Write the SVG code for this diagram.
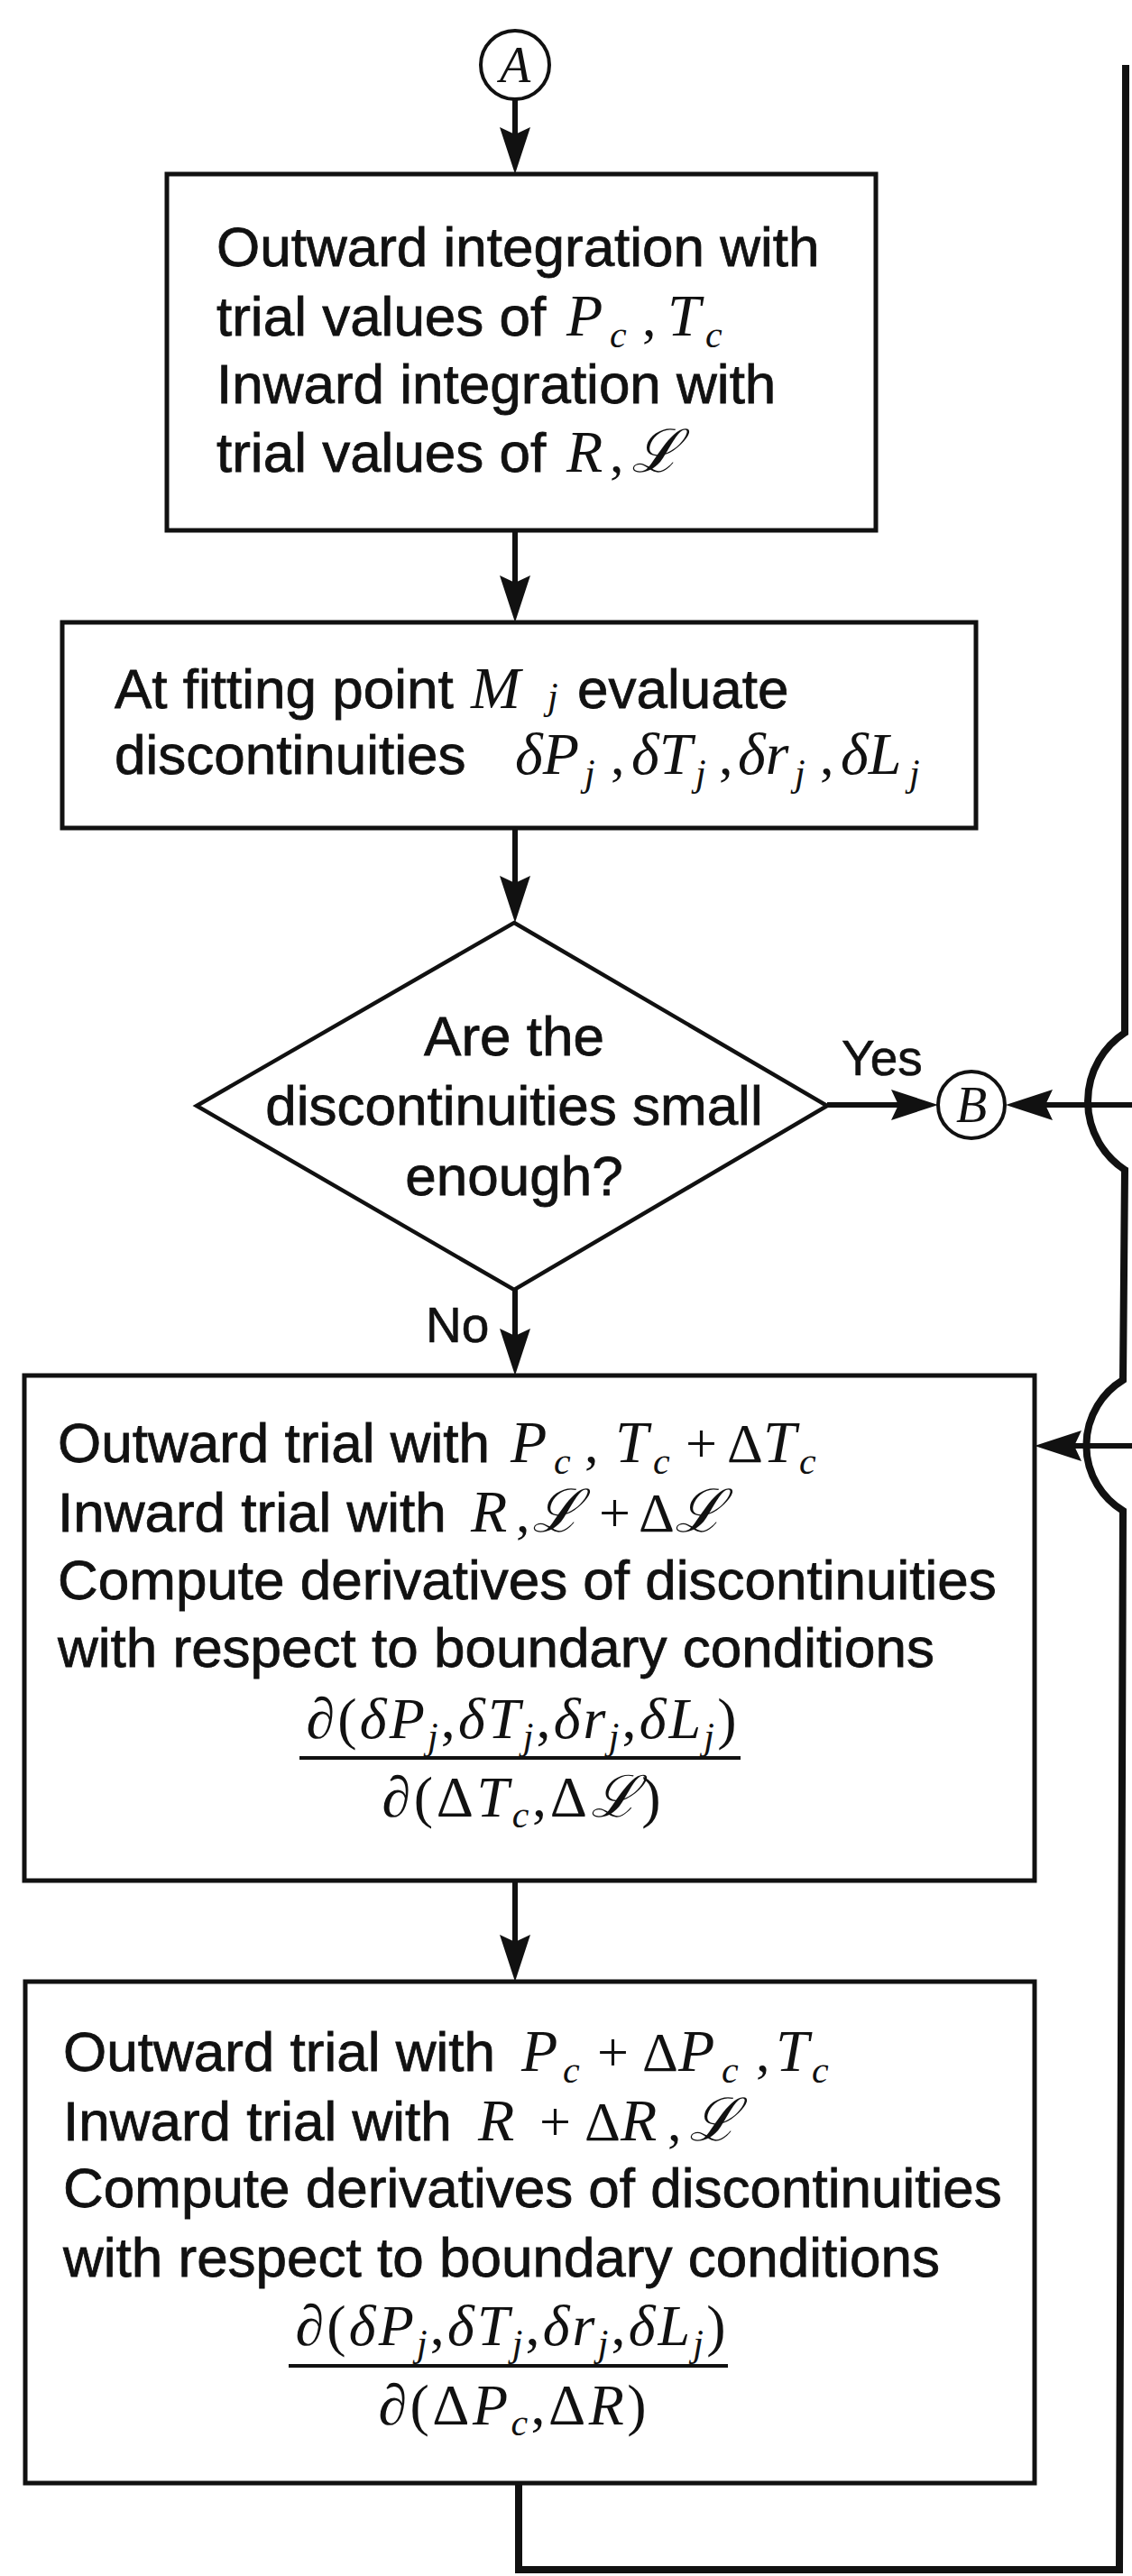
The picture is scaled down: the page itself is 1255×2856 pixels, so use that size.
<svg xmlns="http://www.w3.org/2000/svg" width="1255" height="2856" viewBox="0 0 1255 2856">
<style>
.bg{fill:#fff}
.box{fill:#fff;stroke:#111;stroke-width:5}
.dia{fill:#fff;stroke:#111;stroke-width:4.5}
.con{fill:#fff;stroke:#111;stroke-width:4}
.arr{fill:none;stroke:#111;stroke-width:6}
.loop{fill:none;stroke:#111;stroke-width:8;stroke-linejoin:miter}
.t{font-family:"Liberation Sans",Arial,sans-serif;font-size:62px;fill:#111;stroke:#111;stroke-width:0.8}
.lbl{font-family:"Liberation Sans",Arial,sans-serif;font-size:55px;fill:#111;stroke:#111;stroke-width:0.6}
.m{font-family:"Liberation Serif","Times New Roman",serif;font-style:italic;font-size:66px;fill:#111}
.u{font-family:"Liberation Serif","Times New Roman",serif;font-size:62px;fill:#111}
.s{font-family:"Liberation Serif","Times New Roman",serif;font-style:italic;font-size:42px;fill:#111}
.f{font-family:"Liberation Serif","Times New Roman",serif;font-style:italic;font-size:64px;fill:#111}
.fs{font-size:42px}
.cl{font-family:"Liberation Serif","Times New Roman",serif;font-style:italic;font-size:56px;fill:#111}
</style>
<defs>
<marker id="ah" markerUnits="userSpaceOnUse" viewBox="0 0 52 36" markerWidth="52" markerHeight="36" refX="40" refY="18" orient="auto">
<path d="M52,18 L0,1 L8,18 L0,35 Z" fill="#111"/>
</marker>
</defs>
<rect class="bg" x="0" y="0" width="1255" height="2856"/>

<g id="connectors">
<line class="arr" x1="571" y1="110" x2="571" y2="181" marker-end="url(#ah)"/>
<line class="arr" x1="571" y1="588" x2="571" y2="678" marker-end="url(#ah)"/>
<line class="arr" x1="571" y1="918" x2="571" y2="1011" marker-end="url(#ah)"/>
<line class="arr" x1="571" y1="1430" x2="571" y2="1513" marker-end="url(#ah)"/>
<line class="arr" x1="571" y1="2085" x2="571" y2="2185" marker-end="url(#ah)"/>
<line class="arr" x1="917" y1="1225" x2="1028" y2="1225" marker-end="url(#ah)"/>
<line class="arr" x1="1255" y1="1225" x2="1127" y2="1225" marker-end="url(#ah)"/>
<line class="arr" x1="1255" y1="1603" x2="1159" y2="1603" marker-end="url(#ah)"/>
<path class="loop" d="M575 2753 L575 2849 L1241 2849 L1245 1675 A85 85 0 0 1 1245 1530 L1247 1297 A91 91 0 0 1 1247 1145 L1248 72"/>
<text class="lbl" x="933" y="1192">Yes</text>
<text class="lbl" x="472" y="1488">No</text>
</g>

<g id="connectorA">
<circle class="con" cx="571" cy="72" r="38"/>
<text class="cl" x="571" y="91" text-anchor="middle">A</text>
</g>

<g id="connectorB">
<circle class="con" cx="1077" cy="1225" r="37"/>
<text class="cl" x="1077" y="1244" text-anchor="middle">B</text>
</g>

<g id="box1">
<rect class="box" x="185" y="193" width="786" height="395"/>
<text class="t" x="240" y="295">Outward integration with</text>
<text class="t" x="240" y="372">trial values of</text>
<text class="m" x="628" y="372">P</text>
<text class="s" x="676" y="385">c</text>
<text class="u" x="712" y="372">,</text>
<text class="m" x="740" y="372">T</text>
<text class="s" x="782" y="385">c</text>
<text class="t" x="240" y="447">Inward integration with</text>
<text class="t" x="240" y="523">trial values of</text>
<text class="m" x="628" y="523">R</text>
<text class="u" x="676" y="523">,</text>
<text class="m" x="700" y="523">ℒ</text>
</g>

<g id="box2">
<rect class="box" x="69" y="690" width="1013" height="228"/>
<text class="t" x="127" y="785">At fitting point</text>
<text class="m" x="522" y="785" font-size="62">M</text>
<text class="s" x="607" y="786">j</text>
<text class="t" x="640" y="785">evaluate</text>
<text class="t" x="127" y="858">discontinuities</text>
<text class="m" x="571" y="858">δP</text>
<text class="s" x="648" y="871">j</text>
<text class="u" x="677" y="858">,</text>
<text class="m" x="700" y="858">δT</text>
<text class="s" x="771" y="871">j</text>
<text class="u" x="797" y="858">,</text>
<text class="m" x="818" y="858">δr</text>
<text class="s" x="881" y="871">j</text>
<text class="u" x="909" y="858">,</text>
<text class="m" x="932" y="858">δL</text>
<text class="s" x="1008" y="871">j</text>
</g>

<g id="decision">
<polygon class="dia" points="570,1023 917,1226 570,1430 218,1226"/>
<text class="t" x="570" y="1170" text-anchor="middle">Are the</text>
<text class="t" x="570" y="1247" text-anchor="middle">discontinuities small</text>
<text class="t" x="570" y="1325" text-anchor="middle">enough?</text>
</g>

<g id="box3">
<rect class="box" x="27" y="1525" width="1120" height="560"/>
<text class="t" x="64" y="1621">Outward trial with</text>
<text class="m" x="566" y="1621">P</text>
<text class="s" x="614" y="1634">c</text>
<text class="u" x="648" y="1621">,</text>
<text class="m" x="682" y="1621">T</text>
<text class="s" x="724" y="1634">c</text>
<text class="u" x="760" y="1621">+</text>
<text class="u" x="806" y="1621">Δ</text>
<text class="m" x="846" y="1621">T</text>
<text class="s" x="886" y="1634">c</text>
<text class="t" x="64" y="1698">Inward trial with</text>
<text class="m" x="522" y="1698">R</text>
<text class="u" x="572" y="1698">,</text>
<text class="m" x="590" y="1698">ℒ</text>
<text class="u" x="664" y="1698">+</text>
<text class="u" x="708" y="1698">Δ</text>
<text class="m" x="748" y="1698">ℒ</text>
<text class="t" x="64" y="1773">Compute derivatives of discontinuities</text>
<text class="t" x="64" y="1848">with respect to boundary conditions</text>
<text class="f" x="578" y="1927" text-anchor="middle" textLength="477" lengthAdjust="spacing"><tspan font-style="normal">∂(</tspan>δP<tspan class="fs" dy="12">j</tspan><tspan dy="-12" font-style="normal">,</tspan>δT<tspan class="fs" dy="12">j</tspan><tspan dy="-12" font-style="normal">,</tspan>δr<tspan class="fs" dy="12">j</tspan><tspan dy="-12" font-style="normal">,</tspan>δL<tspan class="fs" dy="12">j</tspan><tspan dy="-12" font-style="normal">)</tspan></text>
<line x1="332" y1="1949" x2="821" y2="1949" stroke="#111" stroke-width="4"/>
<text class="f" x="578" y="2014" text-anchor="middle" textLength="309" lengthAdjust="spacing"><tspan font-style="normal">∂(Δ</tspan>T<tspan class="fs" dy="12">c</tspan><tspan dy="-12" font-style="normal">,Δ</tspan>ℒ<tspan font-style="normal">)</tspan></text>
</g>

<g id="box4">
<rect class="box" x="28" y="2197" width="1119" height="556"/>
<text class="t" x="70" y="2296">Outward trial with</text>
<text class="m" x="578" y="2296">P</text>
<text class="s" x="624" y="2309">c</text>
<text class="u" x="662" y="2296">+</text>
<text class="u" x="712" y="2296">Δ</text>
<text class="m" x="752" y="2296">P</text>
<text class="s" x="800" y="2309">c</text>
<text class="u" x="838" y="2296">,</text>
<text class="m" x="860" y="2296">T</text>
<text class="s" x="900" y="2309">c</text>
<text class="t" x="70" y="2373">Inward trial with</text>
<text class="m" x="530" y="2373">R</text>
<text class="u" x="598" y="2373">+</text>
<text class="u" x="648" y="2373">Δ</text>
<text class="m" x="688" y="2373">R</text>
<text class="u" x="740" y="2373">,</text>
<text class="m" x="764" y="2373">ℒ</text>
<text class="t" x="70" y="2447">Compute derivatives of discontinuities</text>
<text class="t" x="70" y="2524">with respect to boundary conditions</text>
<text class="f" x="566" y="2600" text-anchor="middle" textLength="477" lengthAdjust="spacing"><tspan font-style="normal">∂(</tspan>δP<tspan class="fs" dy="12">j</tspan><tspan dy="-12" font-style="normal">,</tspan>δT<tspan class="fs" dy="12">j</tspan><tspan dy="-12" font-style="normal">,</tspan>δr<tspan class="fs" dy="12">j</tspan><tspan dy="-12" font-style="normal">,</tspan>δL<tspan class="fs" dy="12">j</tspan><tspan dy="-12" font-style="normal">)</tspan></text>
<line x1="320" y1="2623" x2="807" y2="2623" stroke="#111" stroke-width="4"/>
<text class="f" x="568" y="2688" text-anchor="middle" textLength="297" lengthAdjust="spacing"><tspan font-style="normal">∂(Δ</tspan>P<tspan class="fs" dy="12">c</tspan><tspan dy="-12" font-style="normal">,Δ</tspan>R<tspan font-style="normal">)</tspan></text>
</g>
</svg>
